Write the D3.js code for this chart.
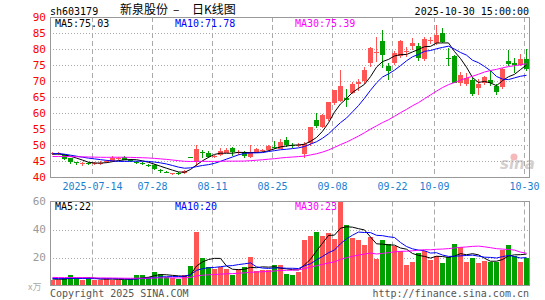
<!DOCTYPE html>
<html>
<head>
<meta charset="utf-8">
<script src="https://cdn.jsdelivr.net/npm/d3@7"></script>
<style>
  html, body { margin: 0; padding: 0; background: #fff; }
  svg { display: block; }
  text { font-family: "DejaVu Sans Mono", monospace; font-size: 10px; }
</style>
</head>
<body>
<svg id="chart" width="545" height="300"></svg>
<script>
const dates = [
  "2025-07-03","2025-07-04","2025-07-07","2025-07-08","2025-07-09","2025-07-10","2025-07-11","2025-07-14","2025-07-15","2025-07-16",
  "2025-07-17","2025-07-18","2025-07-21","2025-07-22","2025-07-23","2025-07-24","2025-07-25","2025-07-28","2025-07-29","2025-07-30",
  "2025-07-31","2025-08-01","2025-08-04","2025-08-05","2025-08-06","2025-08-07","2025-08-08","2025-08-11","2025-08-12","2025-08-13",
  "2025-08-14","2025-08-15","2025-08-18","2025-08-19","2025-08-20","2025-08-21","2025-08-22","2025-08-25","2025-08-26","2025-08-27",
  "2025-08-28","2025-08-29","2025-09-01","2025-09-02","2025-09-03","2025-09-04","2025-09-05","2025-09-08","2025-09-09","2025-09-10",
  "2025-09-11","2025-09-12","2025-09-15","2025-09-16","2025-09-17","2025-09-18","2025-09-19","2025-09-22","2025-09-23","2025-09-24",
  "2025-09-25","2025-09-26","2025-09-29","2025-09-30","2025-10-09","2025-10-10","2025-10-13","2025-10-14","2025-10-15","2025-10-16",
  "2025-10-17","2025-10-20","2025-10-21","2025-10-22","2025-10-23","2025-10-24","2025-10-27","2025-10-28","2025-10-29","2025-10-30"
];

const opens = [
  47.2, 47.3, 46.9, 45.8, 44.6, 44.1, 44.4, 44.3, 44.4, 44.6,
  45.0, 45.7, 46.3, 45.4, 44.8, 44.3, 43.9, 43.8, 42.1, 41.7,
  40.9, 41.2, 41.3, 46.3, 44.6, 47.9, 47.5, 46.3, 46.9, 47.7,
  49.1, 47.5, 47.7, 46.3, 47.9, 48.3, 48.3, 49.5, 48.8, 51.7,
  50.0, 49.8, 47.3, 50.6, 57.9, 55.8, 57.9, 62.9, 63.6, 64.8,
  66.5, 69.0, 70.0, 75.6, 78.7, 82.4, 74.6, 75.6, 77.7, 79.1,
  81.0, 80.8, 76.7, 82.7, 81.9, 85.0, 77.2, 77.9, 69.4, 69.2,
  70.2, 68.1, 69.4, 70.4, 68.5, 68.3, 76.1, 75.6, 75.1, 77.0
];
const highs = [
  47.9, 47.8, 47.2, 46.0, 44.8, 44.6, 44.7, 44.8, 44.9, 45.3,
  46.7, 46.3, 46.5, 45.7, 45.0, 44.7, 44.2, 44.0, 42.5, 42.0,
  41.4, 41.5, 42.3, 46.3, 50.1, 48.3, 48.0, 47.0, 49.2, 49.0,
  49.4, 48.4, 48.0, 50.1, 49.2, 48.9, 50.1, 51.3, 52.0, 52.4,
  50.5, 50.6, 50.9, 55.6, 60.0, 59.6, 63.5, 67.2, 73.5, 67.5,
  69.8, 70.5, 74.5, 80.5, 83.8, 86.0, 75.6, 79.4, 82.8, 80.7,
  83.5, 81.8, 83.6, 83.6, 87.6, 86.6, 80.3, 78.2, 72.9, 72.4,
  70.9, 70.6, 71.7, 73.5, 69.0, 74.0, 79.8, 77.2, 78.5, 80.0
];
const lows = [
  46.9, 47.0, 45.4, 44.0, 43.6, 43.3, 43.8, 43.6, 43.8, 44.3,
  44.8, 45.3, 45.2, 44.7, 44.2, 43.6, 43.2, 42.2, 41.3, 41.1,
  40.7, 40.5, 41.0, 46.2, 43.5, 46.0, 45.8, 46.0, 46.5, 47.4,
  46.6, 46.9, 45.8, 45.9, 47.5, 47.9, 48.0, 48.8, 48.6, 49.3,
  49.0, 49.3, 45.9, 49.7, 55.4, 55.4, 57.5, 62.5, 63.3, 62.0,
  66.0, 66.8, 69.0, 74.5, 75.8, 74.1, 70.2, 75.1, 77.2, 77.5,
  79.6, 76.3, 76.3, 81.7, 81.4, 82.0, 74.6, 69.3, 68.5, 68.5,
  65.4, 65.7, 68.8, 68.5, 65.7, 67.6, 74.6, 72.5, 74.6, 73.2
];
const closes = [
  47.5, 47.5, 45.7, 44.6, 44.3, 44.3, 44.2, 44.5, 44.5, 44.9,
  45.9, 45.9, 45.5, 45.1, 44.6, 44.1, 43.7, 42.5, 41.9, 41.5,
  41.1, 40.9, 42.0, 46.2, 48.6, 47.6, 46.3, 46.6, 48.1, 48.5,
  47.7, 47.7, 46.3, 47.9, 48.7, 48.5, 49.6, 49.3, 51.0, 50.0,
  49.8, 50.0, 50.4, 55.5, 56.0, 59.5, 63.3, 67.1, 68.3, 64.3,
  69.2, 69.6, 73.4, 80.3, 79.1, 77.9, 73.0, 78.8, 82.4, 79.3,
  81.9, 76.9, 83.1, 82.9, 84.5, 82.1, 76.9, 69.6, 72.0, 71.0,
  65.9, 69.2, 71.3, 69.6, 66.65, 73.8, 75.3, 75.05, 77.0, 74.0
];
// volume, 万手
const volumes = [
  3.8, 3.8, 5.6, 7.5, 5.5, 4.1, 5.1, 4.1, 4.1, 5.5,
  4.1, 4.1, 4.1, 4.6, 7.2, 7.2, 6.4, 9.8, 8.5, 6.4,
  5.1, 4.6, 7.7, 13.7, 38.5, 19.7, 13.2, 11.8, 13.5, 11.8,
  7.7, 11.8, 13.2, 20.2, 10.6, 10.8, 10.8, 14.5, 15.0, 8.5,
  7.7, 9.9, 32.4, 35.3, 38.0, 35.3, 37.8, 33.5, 60.0, 43.2,
  33.8, 32.5, 29.0, 34.8, 18.8, 32.5, 30.0, 28.2, 24.4, 14.6,
  17.1, 23.3, 24.6, 18.3, 21.2, 16.0, 20.1, 29.3, 27.3, 17.1,
  19.8, 16.0, 17.2, 16.6, 17.1, 25.7, 28.8, 21.3, 17.1, 19.4
];
// sessions before the first visible day, only feed the moving averages
const priorCloses = [
  46.5, 46.2, 45.8, 45.5, 45.3, 45.6, 46.0, 45.8, 45.4, 45.2,
  45.5, 45.9, 46.3, 46.1, 45.8, 46.0, 46.4, 46.6, 46.2, 46.9,
  47.2, 47.8, 47.6, 47.5, 47.4, 47.1, 46.8, 47.0, 47.1
];
const priorVolumes = [
  7.2, 6.5, 5.8, 6.1, 5.4, 6.8, 7.5, 6.0, 5.7, 6.3,
  5.9, 6.4, 5.5, 6.6, 6.2, 5.8, 6.0, 5.6, 6.3, 5.4,
  5.8, 5.2, 6.1, 5.4, 5.5, 4.6, 5.0, 4.9, 4.7
];

const priceTicks = [40, 45, 50, 55, 60, 65, 70, 75, 80, 85, 90];
const volumeTicks = [20, 40, 60];
const tickDates = ["2025-07-14", "2025-07-28", "2025-08-11", "2025-08-25", "2025-09-08", "2025-09-22", "2025-10-09", "2025-10-30"];
const tickLabels = ["2025-07-14", "07-28", "08-11", "08-25", "09-08", "09-22", "10-09", "10-30"];
const maPeriods = [5, 10, 30];
const maColors = ["#000000", "#0000ff", "#ff00ff"];

const UP = "#ff5555";
const DOWN = "#00a000";
const GRID = "#aaaaaa";
const LEFT = 50, RIGHT = 530;
const P_TOP = 17, P_BOTTOM = 177;
const V_TOP = 201.5, V_BOTTOM = 285.5;

const svg = d3.select("#chart");

const x = d3.scaleBand().domain(dates).range([LEFT, RIGHT]);
const yPrice = d3.scaleLinear().domain([40, 90]).range([P_BOTTOM, P_TOP]);
const yVol = d3.scaleLinear().domain([0, 60]).range([V_BOTTOM, V_TOP]);
const crisp = v => Math.round(v) + 0.5;
const isUp = i => closes[i] >= opens[i];

const movingAverage = (prior, values, n) => {
  const all = prior.concat(values);
  return values.map((_, i) => d3.mean(all.slice(prior.length + i - n + 1, prior.length + i + 1)));
};

// grid lines
const grid = svg.append("g");
grid.selectAll(".hp").data(priceTicks.slice(1, -1)).join("line")
  .attr("x1", LEFT).attr("x2", RIGHT)
  .attr("y1", d => crisp(yPrice(d))).attr("y2", d => crisp(yPrice(d)))
  .attr("stroke", GRID).attr("stroke-dasharray", "1,2");
grid.selectAll(".hv").data(volumeTicks.slice(0, -1)).join("line")
  .attr("x1", LEFT).attr("x2", RIGHT)
  .attr("y1", d => crisp(yVol(d))).attr("y2", d => crisp(yVol(d)))
  .attr("stroke", GRID).attr("stroke-dasharray", "1,2");
[[P_TOP, P_BOTTOM], [V_TOP, V_BOTTOM]].forEach(([t, b]) => {
  grid.append("g").selectAll("line").data(tickDates).join("line")
    .attr("x1", d => x(d) + 0.5).attr("x2", d => x(d) + 0.5)
    .attr("y1", t).attr("y2", b)
    .attr("stroke", GRID).attr("stroke-dasharray", "5,3");
});

// sina watermark
const mark = svg.append("g").attr("opacity", 0.55);
mark.append("text").attr("x", 500).attr("y", 169)
  .style("font-family", "DejaVu Sans").style("font-size", "15px")
  .style("font-weight", "bold").style("font-style", "italic")
  .attr("fill", "#b0a8a8").text("sina");
mark.append("circle").attr("cx", 514).attr("cy", 157).attr("r", 3.5).attr("fill", "#f08080");

// candles
const candles = svg.append("g").attr("shape-rendering", "crispEdges");
candles.selectAll("line").data(dates).join("line")
  .attr("x1", d => x(d) + 2.5).attr("x2", d => x(d) + 2.5)
  .attr("y1", (d, i) => yPrice(highs[i])).attr("y2", (d, i) => yPrice(lows[i]))
  .attr("stroke", (d, i) => isUp(i) ? UP : DOWN);
candles.selectAll("rect").data(dates).join("rect")
  .attr("x", d => x(d)).attr("width", 5)
  .attr("y", (d, i) => Math.round(yPrice(Math.max(opens[i], closes[i]))))
  .attr("height", (d, i) => Math.max(1, Math.round(Math.abs(yPrice(opens[i]) - yPrice(closes[i])))))
  .attr("fill", (d, i) => isUp(i) ? UP : DOWN);

// volume bars
svg.append("g").attr("shape-rendering", "crispEdges")
  .selectAll("rect").data(dates).join("rect")
  .attr("x", d => x(d)).attr("width", 5)
  .attr("y", (d, i) => yVol(volumes[i]))
  .attr("height", (d, i) => V_BOTTOM - yVol(volumes[i]))
  .attr("fill", (d, i) => isUp(i) ? UP : DOWN);

// moving averages
const priceMA = maPeriods.map(n => movingAverage(priorCloses, closes, n));
const volMA = maPeriods.map(n => movingAverage(priorVolumes, volumes, n));
const lineFor = y => d3.line().x((v, i) => x(dates[i]) + 2.5).y(v => y(v));
priceMA.forEach((ma, k) => {
  svg.append("path").attr("d", lineFor(yPrice)(ma))
    .attr("fill", "none").attr("stroke", maColors[k]).attr("stroke-width", 1);
});
volMA.forEach((ma, k) => {
  svg.append("path").attr("d", lineFor(yVol)(ma))
    .attr("fill", "none").attr("stroke", maColors[k]).attr("stroke-width", 1);
});

// panel borders
[[P_TOP, P_BOTTOM], [V_TOP, V_BOTTOM]].forEach(([t, b]) => {
  svg.append("rect").attr("x", LEFT + 0.5).attr("y", crisp(t) - 0.5 * (t % 1 ? 2 : 0))
    .attr("width", RIGHT - LEFT - 1).attr("height", Math.round(b - t))
    .attr("fill", "none").attr("stroke", "#999");
});

// axis labels
svg.append("g").selectAll("text").data(priceTicks).join("text")
  .attr("x", 46).attr("y", d => yPrice(d)).attr("dy", "0.35em")
  .attr("text-anchor", "end").attr("fill", "#ff0000")
  .style("font-size", "11px").text(d => d);
svg.append("g").selectAll("text").data(volumeTicks).join("text")
  .attr("x", 46).attr("y", d => yVol(d)).attr("dy", "0.35em")
  .attr("text-anchor", "end").attr("fill", "#999")
  .style("font-size", "11px").text(d => d);
svg.append("g").selectAll("text").data(tickDates).join("text")
  .attr("x", d => x(d) + 0.5).attr("y", 189.5)
  .attr("text-anchor", "middle").attr("fill", "#1a80d0")
  .text((d, i) => tickLabels[i]);

// header
svg.append("text").attr("x", 50).attr("y", 14.5).attr("fill", "#000").text("sh603179");
const title = svg.append("text").attr("y", 14)
  .style("font-family", "'Noto Sans CJK SC'").style("font-size", "12px").attr("fill", "#000");
title.append("tspan").attr("x", 120).text("新泉股份");
title.append("tspan").attr("x", 173).text("–");
title.append("tspan").attr("x", 192).text("日K线图");
svg.append("text").attr("x", 529).attr("y", 14.5).attr("text-anchor", "end")
  .attr("fill", "#000").text(dates[dates.length - 1] + " 15:00:00");

// MA legends
const legendX = [55, 175, 295];
maPeriods.forEach((n, k) => {
  svg.append("text").attr("x", legendX[k]).attr("y", 27).attr("fill", maColors[k])
    .text(`MA${n}:${priceMA[k][closes.length - 1].toFixed(2)}`);
  svg.append("text").attr("x", legendX[k]).attr("y", 210).attr("fill", maColors[k])
    .text(`MA${n}:${Math.round(volMA[k][volumes.length - 1])}`);
});

// footer
svg.append("text").attr("x", 28).attr("y", 290).attr("fill", "#aaa")
  .style("font-family", "'Noto Sans CJK SC'").style("font-size", "9px").text("x万");
svg.append("text").attr("x", 50).attr("y", 297).attr("fill", "#555").text("Copyright 2025 SINA.COM");
svg.append("text").attr("x", 529).attr("y", 297).attr("text-anchor", "end")
  .attr("fill", "#555").text("http://finance.sina.com.cn");
</script>
</body>
</html>
